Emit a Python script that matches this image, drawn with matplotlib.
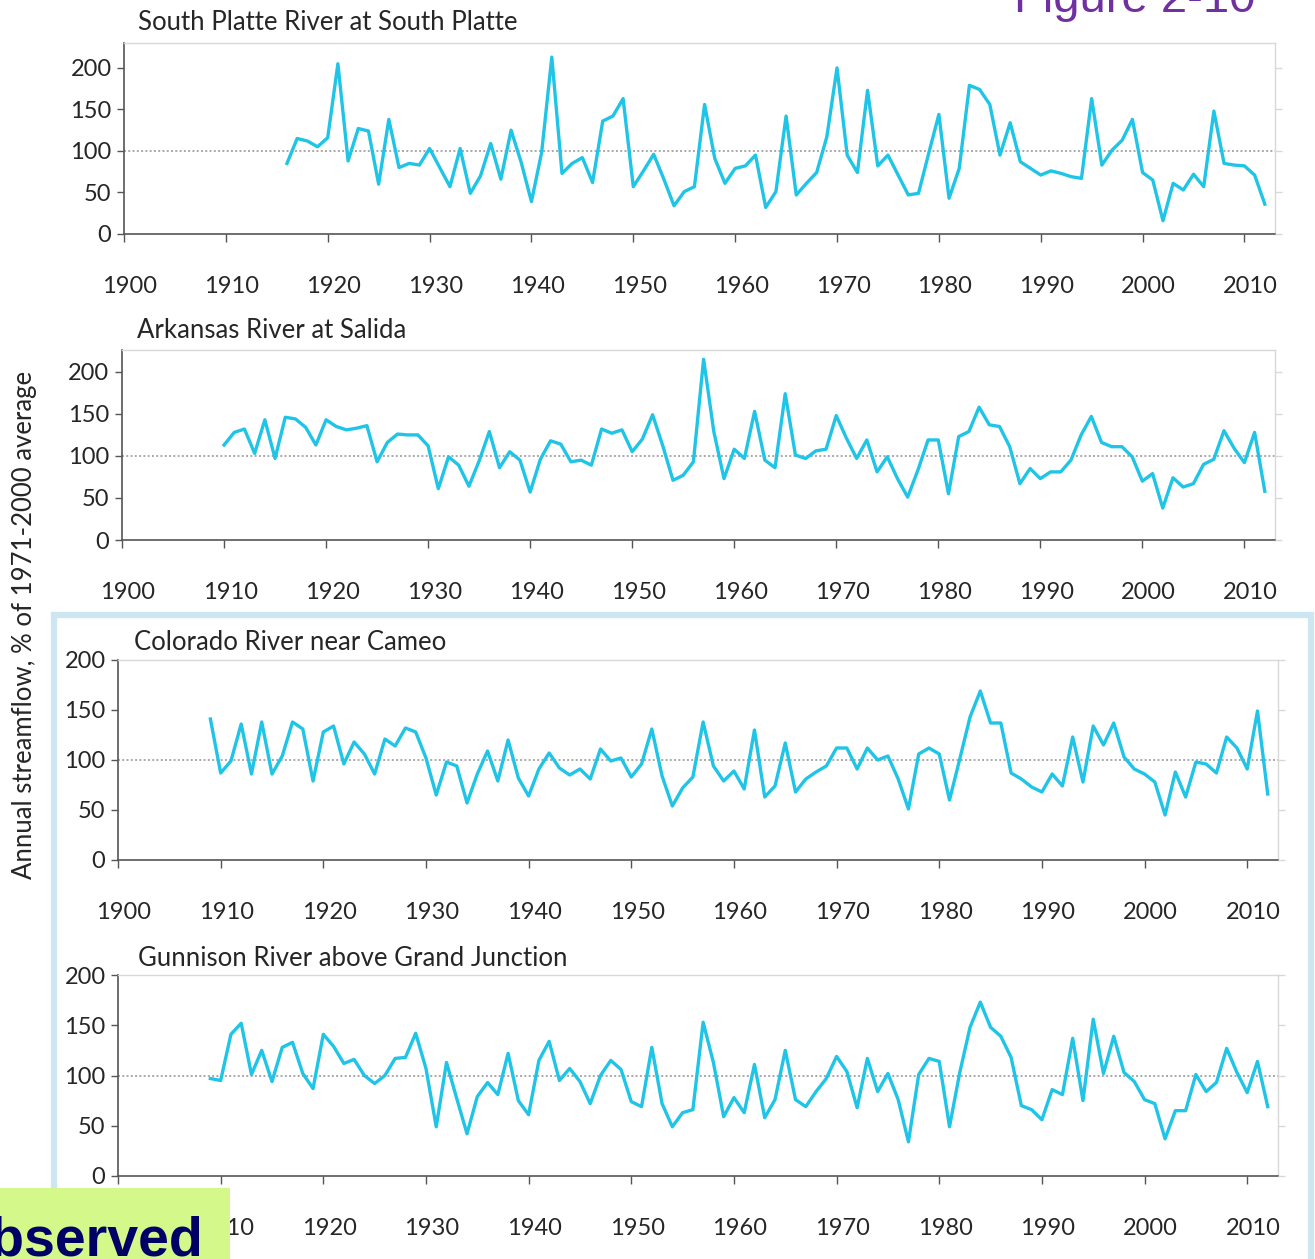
import numpy as np
import matplotlib.pyplot as plt
from matplotlib.patches import Rectangle
from matplotlib.transforms import ScaledTranslation

# Annual streamflow, % of 1971-2000 average, for four Colorado gauges
sp_years = np.arange(1916, 2013)
sp_flow = [85, 115, 112, 105, 116, 205, 88, 127, 124, 60,
           138, 80, 85, 83, 103, 80, 57, 103, 49, 70,
           109, 66, 125, 86, 39, 98, 213, 73, 85, 92,
           62, 136, 142, 163, 57, 76, 96, 66, 34, 51,
           57, 156, 91, 61, 79, 82, 95, 32, 51, 142,
           47, 61, 74, 117, 200, 95, 74, 173, 82, 95,
           71, 47, 49, 97, 144, 43, 79, 179, 174, 156,
           95, 134, 87, 79, 71, 76, 73, 69, 67, 163,
           83, 101, 113, 138, 74, 65, 16, 61, 53, 72,
           57, 148, 85, 83, 82, 71, 36]

ark_years = np.arange(1910, 2013)
ark_flow = [113, 128, 132, 103, 143, 97, 146, 144, 134, 113,
            143, 135, 131, 133, 136, 93, 116, 126, 125, 125,
            112, 61, 99, 89, 64, 94, 129, 86, 105, 95,
            57, 96, 118, 114, 93, 95, 89, 132, 127, 131,
            105, 120, 149, 112, 71, 77, 93, 215, 129, 73,
            108, 97, 153, 95, 86, 174, 101, 97, 106, 108,
            148, 121, 97, 119, 81, 99, 73, 51, 83, 119,
            119, 55, 123, 129, 158, 137, 135, 111, 67, 85,
            73, 81, 81, 95, 125, 147, 116, 111, 111, 99,
            70, 79, 38, 74, 63, 67, 90, 96, 130, 109,
            92, 128, 58]

col_years = np.arange(1909, 2013)
col_flow = [141, 87, 99, 136, 86, 138, 86, 104, 138, 131,
            79, 128, 134, 96, 118, 106, 86, 121, 114, 132,
            128, 102, 65, 98, 94, 57, 86, 109, 79, 120,
            82, 64, 91, 107, 92, 85, 91, 81, 111, 99,
            102, 83, 96, 131, 84, 54, 72, 83, 138, 94,
            79, 89, 71, 130, 63, 74, 117, 68, 81, 88,
            94, 112, 112, 91, 112, 100, 104, 81, 51, 106,
            112, 106, 60, 101, 143, 169, 137, 137, 87, 81,
            73, 68, 86, 74, 123, 78, 134, 115, 137, 103,
            91, 86, 78, 45, 88, 63, 98, 96, 87, 123,
            112, 91, 149, 66]

gun_years = np.arange(1909, 2013)
gun_flow = [97, 95, 141, 152, 101, 125, 94, 128, 133, 102,
            87, 141, 129, 112, 116, 100, 92, 100, 117, 118,
            142, 107, 49, 113, 77, 42, 79, 93, 81, 122,
            75, 61, 115, 134, 95, 107, 94, 72, 100, 115,
            106, 74, 69, 128, 72, 49, 63, 66, 153, 113,
            59, 78, 63, 111, 58, 76, 125, 76, 69, 84,
            97, 119, 104, 68, 117, 84, 102, 76, 34, 101,
            117, 114, 49, 103, 148, 173, 148, 139, 118, 70,
            66, 56, 86, 81, 137, 75, 156, 102, 139, 103,
            94, 76, 72, 37, 65, 65, 101, 84, 93, 127,
            103, 83, 114, 69]

titles = ["South Platte River at South Platte",
          "Arkansas River at Salida",
          "Colorado River near Cameo",
          "Gunnison River above Grand Junction"]
series = [(sp_years, sp_flow), (ark_years, ark_flow),
          (col_years, col_flow), (gun_years, gun_flow)]
year_ticks = list(range(1900, 2011, 10))
flow_ticks = [0, 50, 100, 150, 200]

plt.rcParams['font.family'] = ['Lato', 'DejaVu Sans']

W, H = 1315, 1259
fig = plt.figure(figsize=(W / 100, H / 100), dpi=100)
fig.patch.set_facecolor('white')


def fx(x):
    return x / W


def fy(y):
    return 1 - y / H


# panel frames in pixels: left, right, top, zero line, y max
frames = [(124, 1275, 43, 234, 230),
          (122, 1275, 350, 540, 226),
          (118, 1278, 660, 860, 200),
          (118, 1278, 975, 1176, 200)]
title_pos = [(138, 22), (137, 331), (134, 642), (138, 958)]

LINE = '#1fc4e6'
DARK = '#555555'
LIGHT = '#d8d8d8'
TEXT = '#262626'

# year labels sit a little right of their ticks
label_shift = ScaledTranslation(6 / 100, 0, fig.dpi_scale_trans)

for (years, flow), (l, r, t, b, ymax), title, (tx, ty) in zip(
        series, frames, titles, title_pos):
    ax = fig.add_axes([fx(l), fy(b), (r - l) / W, (b - t) / H])
    ax.plot(years, flow, color=LINE, lw=2.4, solid_joinstyle='round', zorder=3)
    ax.axhline(100, color='#a8a8a8', lw=1.4, ls=(0, (1, 1.2)), zorder=2)

    ax.set_xlim(1900, 2013)
    ax.set_ylim(0, ymax)
    ax.set_xticks(year_ticks)
    ax.set_yticks(flow_ticks)

    for side in ['left', 'bottom']:
        ax.spines[side].set_color(DARK)
        ax.spines[side].set_linewidth(1.2)
    for side in ['top', 'right']:
        ax.spines[side].set_color(LIGHT)
        ax.spines[side].set_linewidth(1.0)

    ax.tick_params(axis='x', direction='out', length=6, width=1, color=DARK,
                   pad=24, labelsize=17, labelcolor=TEXT)
    ax.tick_params(axis='y', direction='out', length=5, width=1, color=DARK,
                   pad=4, labelsize=17, labelcolor=TEXT)
    for lbl in ax.get_xticklabels():
        lbl.set_transform(lbl.get_transform() + label_shift)

    # faint ticks on the right edge
    ax2 = ax.twinx()
    ax2.set_ylim(0, ymax)
    ax2.set_yticks(flow_ticks)
    ax2.tick_params(axis='y', length=5, width=1, color=LIGHT, labelright=False)
    for s in ax2.spines.values():
        s.set_visible(False)

    fig.text(fx(tx), fy(ty), title, ha='left', va='center',
             fontsize=18.5, color=TEXT)

fig.text(fx(25), fy(625), "Annual streamflow, % of 1971-2000 average",
         rotation=90, ha='center', va='center', fontsize=18.5, color=TEXT)

# light blue frame around the western-slope gauges
fig.patches.append(Rectangle((fx(54), fy(1300)), fx(1311) - fx(54),
                             fy(615) - fy(1300), transform=fig.transFigure,
                             fill=False, edgecolor='#cce7f1', lw=4.5, zorder=0))

fig.text(fx(1256), fy(12), "Figure 2-10", ha='right', va='baseline',
         fontsize=34, color='#7030a0', family='Liberation Sans')

fig.patches.append(Rectangle((0, 0), fx(230), fy(1188), transform=fig.transFigure,
                             facecolor='#d4f88a', edgecolor='none', zorder=5))
fig.text(fx(204), fy(1256), "Observed", ha='right', va='baseline',
         fontsize=40, fontweight='bold', color='#000066',
         family='Liberation Sans', zorder=6)

fig.savefig('out.png', dpi=100)
